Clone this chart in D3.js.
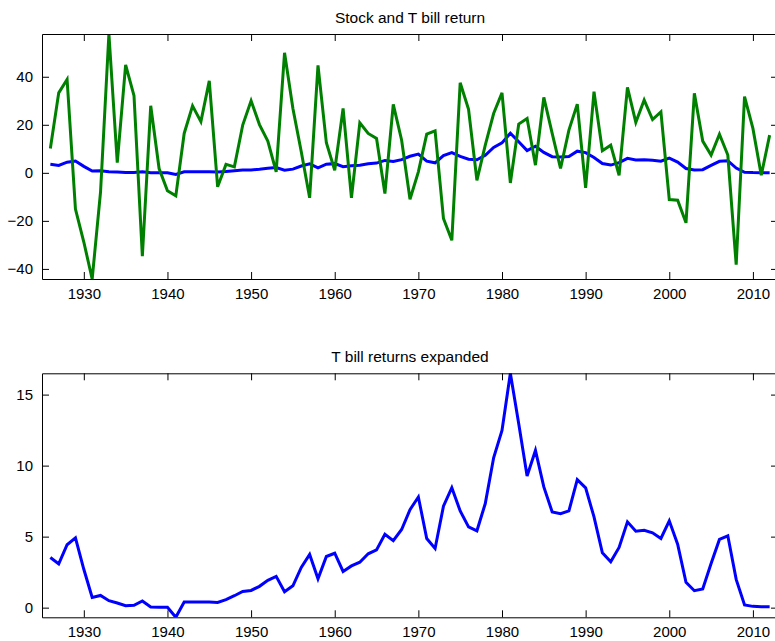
<!DOCTYPE html>
<html>
<head>
<meta charset="utf-8">
<script src="https://cdn.jsdelivr.net/npm/d3@7"></script>
<style>
  html, body { margin: 0; padding: 0; background: #fff; }
  svg { display: block; }
  text { font-family: "Liberation Sans", Arial, Helvetica, sans-serif; fill: #000; }
</style>
</head>
<body>
<svg id="chart" width="775" height="641"></svg>
<script>
// ---- data ----
const years = [1926,1927,1928,1929,1930,1931,1932,1933,1934,1935,1936,1937,1938,1939,1940,
  1941,1942,1943,1944,1945,1946,1947,1948,1949,1950,1951,1952,1953,1954,1955,1956,1957,1958,
  1959,1960,1961,1962,1963,1964,1965,1966,1967,1968,1969,1970,1971,1972,1973,1974,1975,1976,
  1977,1978,1979,1980,1981,1982,1983,1984,1985,1986,1987,1988,1989,1990,1991,1992,1993,1994,
  1995,1996,1997,1998,1999,2000,2001,2002,2003,2004,2005,2006,2007,2008,2009,2010,2011,2012];

const stockReturn = [10.1,33.3,38.9,-15.1,-28.8,-44.2,-7.9,57.8,4.2,44.9,32.1,-34.7,27.9,1.8,-7.5,
  -9.6,16.4,27.9,21.3,38.3,-5.8,3.5,2.5,19.9,30.0,20.1,13.2,0.4,50.0,26.8,8.8,-10.4,44.7,
  12.5,1.1,26.8,-10.4,20.8,16.4,14.3,-8.6,28.5,13.6,-11.0,0.4,16.1,17.5,-19.0,-28.1,37.5,26.4,
  -3.1,11.5,24.7,33.3,-4.2,20.3,22.6,3.2,31.4,16.4,1.8,17.8,28.6,-6.3,33.8,9.2,11.5,-1.0,
  35.6,21.0,30.3,22.2,25.4,-11.1,-11.4,-20.8,33.1,13.2,7.4,16.1,7.4,-38.2,31.7,18.5,-1.0,15.7];

const tbillReturn = [3.53,3.08,4.43,4.91,2.7,0.72,0.86,0.49,0.33,0.14,0.16,0.47,0.05,0.02,0.02,
  -0.68,0.40,0.40,0.40,0.40,0.37,0.56,0.84,1.14,1.21,1.50,1.92,2.20,1.12,1.54,2.83,3.74,2.03,
  3.60,3.83,2.55,2.94,3.20,3.79,4.07,5.16,4.72,5.50,6.90,7.79,4.87,4.17,7.14,8.45,6.81,5.69,
  5.41,7.33,10.55,12.47,16.5,12.94,9.27,11.07,8.50,6.74,6.62,6.81,9.01,8.43,6.39,3.86,3.23,4.24,
  6.04,5.38,5.45,5.27,4.87,6.11,4.47,1.78,1.19,1.31,3.11,4.80,5.06,1.99,0.19,0.09,0.07,0.07];

const xTicks = [1930,1940,1950,1960,1970,1980,1990,2000,2010];
const topYTicks = [-40,-20,0,20,40];
const bottomYTicks = [0,5,10,15];
const titles = ["Stock and T bill return", "T bill returns expanded"];

// ---- layout ----
const svg = d3.select("#chart");
const left = 42, right = 778;
const panels = [
  { top: 34, bottom: 279, title: titles[0], yTicks: topYTicks,
    series: [ {values: tbillReturn, color: "#0000ff"}, {values: stockReturn, color: "#008000"} ],
    domain: d3.extent(stockReturn.concat(tbillReturn)) },
  { top: 373.3, bottom: 617.3, title: titles[1], yTicks: bottomYTicks,
    series: [ {values: tbillReturn, color: "#0000ff"} ],
    domain: d3.extent(tbillReturn) }
];

const x = d3.scaleLinear()
  .domain([d3.min(years) - 1, d3.max(years) + 1])
  .range([left, right]);

const fmt = d => (d < 0 ? "\u2212" + Math.abs(d) : String(d));
const TICK = 7;

panels.forEach((p, i) => {
  const y = d3.scaleLinear().domain(p.domain).range([p.bottom, p.top]);
  const g = svg.append("g");

  const clipId = "clip" + i;
  svg.append("clipPath").attr("id", clipId)
    .append("rect").attr("x", left).attr("y", p.top)
    .attr("width", right - left).attr("height", p.bottom - p.top);

  // lines
  const lineGen = vals => d3.line()
    .x((d, k) => x(years[k]))
    .y(d => y(d))(vals);
  p.series.forEach(s => {
    g.append("path")
      .attr("d", lineGen(s.values))
      .attr("fill", "none")
      .attr("stroke", s.color)
      .attr("stroke-width", 3)
      .attr("stroke-linejoin", "miter")
      .attr("stroke-miterlimit", 4)
      .attr("clip-path", `url(#${clipId})`);
  });

  // axes
  const styleAxis = sel => {
    sel.attr("font-family", "'Liberation Sans', Arial, sans-serif")
       .attr("font-size", 15);
    sel.selectAll("path.domain").attr("stroke", "#000").attr("stroke-width", 1);
    sel.selectAll(".tick line").attr("stroke", "#000").attr("stroke-width", 1);
    sel.selectAll(".tick text").attr("fill", "#000");
  };

  g.append("g").attr("transform", `translate(0,${p.bottom})`)
    .call(d3.axisBottom(x).tickValues(xTicks).tickFormat(d3.format("d"))
      .tickSizeInner(-TICK).tickSizeOuter(0).tickPadding(9.5))
    .call(styleAxis);

  g.append("g").attr("transform", `translate(0,${p.top})`)
    .call(d3.axisTop(x).tickValues(xTicks).tickFormat("")
      .tickSizeInner(-TICK).tickSizeOuter(0))
    .call(styleAxis);

  g.append("g").attr("transform", `translate(${left},0)`)
    .call(d3.axisLeft(y).tickValues(p.yTicks).tickFormat(fmt)
      .tickSizeInner(-TICK).tickSizeOuter(0).tickPadding(9))
    .call(styleAxis);

  g.append("g").attr("transform", `translate(${right},0)`)
    .call(d3.axisRight(y).tickValues(p.yTicks).tickFormat("")
      .tickSizeInner(-TICK).tickSizeOuter(0))
    .call(styleAxis);

  // title
  g.append("text")
    .attr("x", (left + right) / 2)
    .attr("y", p.top - 11.5)
    .attr("text-anchor", "middle")
    .attr("font-size", 15.5)
    .text(p.title);
});
</script>
</body>
</html>
